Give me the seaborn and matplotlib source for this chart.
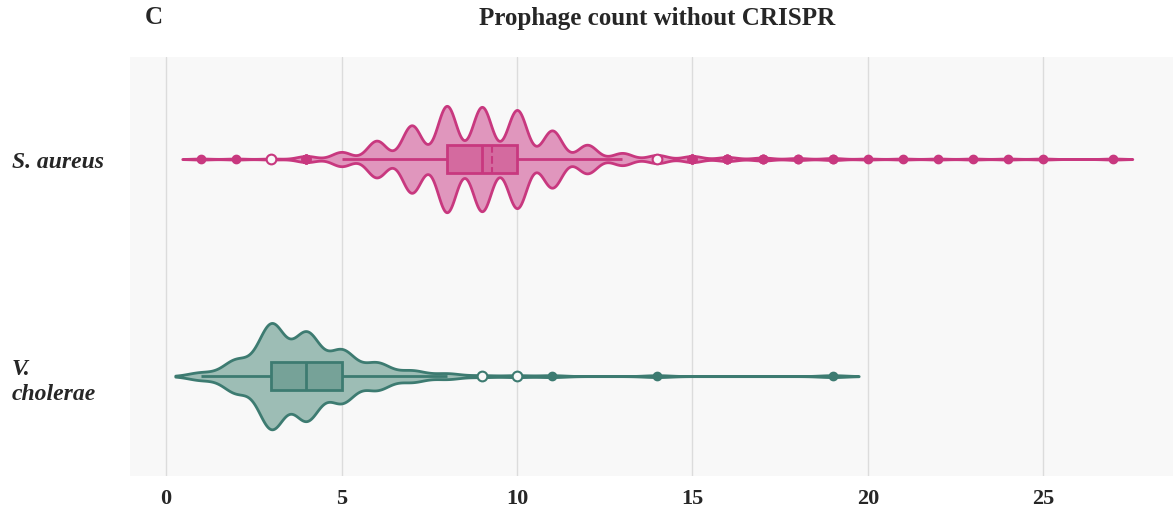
import numpy as np
import pandas as pd
import matplotlib
matplotlib.use("Agg")
import matplotlib.pyplot as plt
import seaborn as sns

# ---------------- data ----------------
species = ["S. aureus", "V. cholerae"]
species_labels = ["S. aureus", "V.\ncholerae"]

# prophage count -> number of genomes
sa_values = [1, 2, 3, 4, 5, 6, 7, 8, 9, 10, 11, 12, 13, 14, 15, 16, 17, 18, 19, 20, 21, 22, 23, 24, 25, 27]
sa_freqs  = [1, 1, 1, 6, 14, 36, 66, 104, 102, 96, 56, 28, 12, 8, 6, 4, 3, 2, 2, 1, 1, 1, 1, 1, 1, 1]
vc_values = [1, 2, 3, 4, 5, 6, 7, 8, 9, 10, 11, 14, 19]
vc_freqs  = [4, 17, 54, 45, 27, 14, 6, 3, 1, 1, 1, 1, 1]

# points drawn as open circles (suspected outliers)
sa_suspected = [3, 14]
vc_suspected = [9, 10]

x_ticks = [0, 5, 10, 15, 20, 25]
title = "Prophage count without CRISPR"
panel = "C"

# ---------------- styling ----------------
bg = "#f8f8f8"
edge_cols = {"S. aureus": "#c8387f", "V. cholerae": "#3d7b71"}
fill_cols = {"S. aureus": "#e096bd", "V. cholerae": "#9dbdb5"}
box_cols = {"S. aureus": "#d46a9f", "V. cholerae": "#76a298"}
bandwidths = {"S. aureus": 0.27, "V. cholerae": 0.37}
show_mean = {"S. aureus": True, "V. cholerae": False}

rows = []
for sp, vals, fr in [("S. aureus", sa_values, sa_freqs), ("V. cholerae", vc_values, vc_freqs)]:
    for v, f in zip(vals, fr):
        rows += [(sp, v)] * f
df = pd.DataFrame(rows, columns=["species", "count"])
sus = pd.DataFrame([("S. aureus", v) for v in sa_suspected] + [("V. cholerae", v) for v in vc_suspected],
                   columns=["species", "count"])

sns.set_theme(style="white")
plt.rcParams["font.family"] = ["Liberation Serif", "DejaVu Serif"]

fig = plt.figure(figsize=(11.73, 5.10), dpi=100)
ax = fig.add_axes([130 / 1173, 1 - 477 / 510, 1 - 130 / 1173, (477 - 58) / 510])
ax.set_facecolor(bg)

for sp in species:
    sub = df[df["species"] == sp]
    std = sub["count"].std(ddof=1)
    sns.violinplot(data=sub, x="count", y="species", order=species, orient="h",
                   color=fill_cols[sp], linecolor=edge_cols[sp], linewidth=2,
                   inner=None, density_norm="width", width=0.49, cut=2, gridsize=2000,
                   bw_method=bandwidths[sp] / std, saturation=1, ax=ax)

for sp in species:
    sub = df[df["species"] == sp]
    e = edge_cols[sp]
    sns.boxplot(data=sub, x="count", y="species", order=species, orient="h",
                color=box_cols[sp], linecolor=e, linewidth=2, width=0.13,
                saturation=1, whis=1.5, showcaps=False,
                showmeans=show_mean[sp], meanline=True,
                meanprops=dict(linestyle="--", color=e, linewidth=1.5),
                flierprops=dict(marker="o", markerfacecolor=e, markeredgecolor=e, markersize=6),
                ax=ax)

for sp in species:
    sub = sus[sus["species"] == sp]
    sns.stripplot(data=sub, x="count", y="species", order=species, orient="h",
                  jitter=False, color=bg, edgecolor=edge_cols[sp], linewidth=1.5,
                  size=7, ax=ax, zorder=5)

ax.set_xlim(-1.03, 28.7)
ax.set_ylim(1.46, -0.47)
ax.set_xticks(x_ticks)
ax.set_xticklabels([str(t) for t in x_ticks], fontsize=16, fontweight="bold")
ax.set_yticks(range(len(species)))
ax.set_yticklabels(species_labels, fontsize=17, fontweight="bold", fontstyle="italic",
                   ha="left", linespacing=1.3)
ax.tick_params(axis="y", length=0, pad=118 * 72 / 100)
ax.tick_params(axis="x", length=0, pad=9)
ax.set_xlabel("")
ax.set_ylabel("")
ax.grid(axis="x", color="#dcdcdc", linewidth=1)
ax.grid(axis="y", visible=False)
ax.set_axisbelow(True)
for s in ax.spines.values():
    s.set_visible(False)

fig.text(657 / 1173, 1 - 18 / 510, title, ha="center", va="center", fontsize=18, fontweight="bold")
fig.text(145 / 1173, 1 - 18 / 510, panel, ha="left", va="center", fontsize=18, fontweight="bold")

fig.savefig("out.png", dpi=100, facecolor="white")
